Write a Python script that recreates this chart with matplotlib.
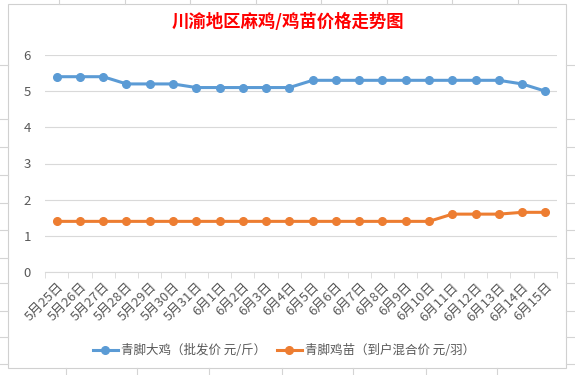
import matplotlib.pyplot as plt
from matplotlib.lines import Line2D
from matplotlib.patches import Rectangle

plt.rcParams['font.family'] = ['Noto Sans CJK SC', 'DejaVu Sans']

dates = ['5月25日', '5月26日', '5月27日', '5月28日', '5月29日', '5月30日', '5月31日',
         '6月1日', '6月2日', '6月3日', '6月4日', '6月5日', '6月6日', '6月7日', '6月8日',
         '6月9日', '6月10日', '6月11日', '6月12日', '6月13日', '6月14日', '6月15日']
big_chicken = [5.4, 5.4, 5.4, 5.2, 5.2, 5.2, 5.1, 5.1, 5.1, 5.1, 5.1,
               5.3, 5.3, 5.3, 5.3, 5.3, 5.3, 5.3, 5.3, 5.3, 5.2, 5.0]
chick = [1.4, 1.4, 1.4, 1.4, 1.4, 1.4, 1.4, 1.4, 1.4, 1.4, 1.4,
         1.4, 1.4, 1.4, 1.4, 1.4, 1.4, 1.6, 1.6, 1.6, 1.65, 1.65]
labels = ['青脚大鸡（批发价 元/斤）', '青脚鸡苗（到户混合价 元/羽）']

W, H = 575, 375
fig = plt.figure(figsize=(W / 100, H / 100), dpi=100)

# spreadsheet grid peeking out behind the chart
for x in [59, 125, 190, 256, 321, 387, 452, 518]:
    fig.add_artist(Line2D([x / W, x / W], [1 - 4 / H, 1], color='#d4d4d4', lw=0.8))
for x in [66, 137, 209, 282, 353, 426, 497]:
    fig.add_artist(Line2D([x / W, x / W], [0, 7 / H], color='#d4d4d4', lw=0.8))
for y in [65, 119, 147, 175, 203, 230, 258, 283, 311, 337, 364]:
    fig.add_artist(Line2D([0, 8 / W], [1 - y / H, 1 - y / H], color='#d4d4d4', lw=0.8))
    fig.add_artist(Line2D([566 / W, 1], [1 - y / H, 1 - y / H], color='#d4d4d4', lw=0.8))
fig.add_artist(Rectangle((8 / W, 7 / H), 558 / W, 364 / H, fill=False,
                         edgecolor='#d0d0d0', lw=0.8))

ax = fig.add_axes([45 / W, 1 - 272 / H, 512 / W, 217 / H])
x = range(len(dates))
ax.plot(x, big_chicken, color='#5B9BD5', lw=2.2, marker='o', ms=5.5, label=labels[0])
ax.plot(x, chick, color='#ED7D31', lw=2.2, marker='o', ms=5.5, label=labels[1])

ax.set_xlim(-0.5, len(dates) - 0.5)
ax.set_ylim(0, 6)
ax.set_yticks(range(7))
ax.yaxis.grid(True, color='#d9d9d9', lw=0.8)
ax.set_axisbelow(True)
for s in ['top', 'right', 'left']:
    ax.spines[s].set_visible(False)
ax.spines['bottom'].set_color('#d9d9d9')
ax.tick_params(axis='y', length=0, labelsize=9.5, labelcolor='#595959', pad=10)

ax.set_xticks(x)
ax.set_xticklabels(dates, rotation=45, ha='right', rotation_mode='anchor',
                   fontsize=9.5, color='#595959')
ax.tick_params(axis='x', length=0, pad=6)
ax.set_xticks([i - 0.5 for i in range(len(dates) + 1)], minor=True)
ax.tick_params(axis='x', which='minor', length=4, color='#d9d9d9')

fig.text(288 / W, 1 - 22 / H, '川渝地区麻鸡/鸡苗价格走势图', color='#ff0000',
         fontsize=12.5, fontweight='bold', ha='center', va='center')

fig.legend(loc='center', bbox_to_anchor=(284 / W, 1 - 351 / H), ncol=2, frameon=False,
           fontsize=9, labelcolor='#595959', handlelength=2.0, handletextpad=0.3,
           columnspacing=0.8)

fig.savefig('out.png', dpi=100)
